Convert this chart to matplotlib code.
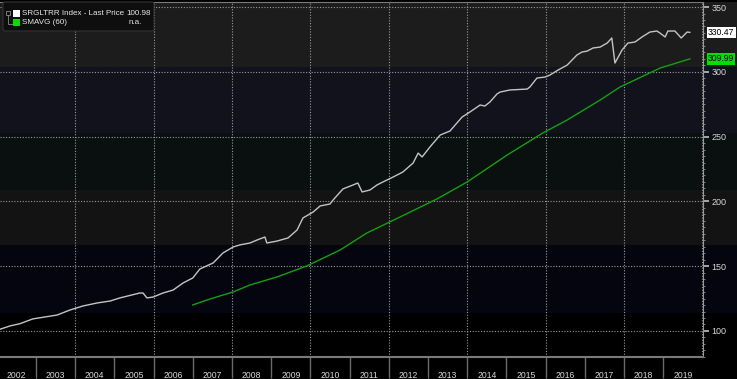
import matplotlib
matplotlib.use("Agg")
import matplotlib.pyplot as plt
from matplotlib.patches import Rectangle, FancyBboxPatch
from matplotlib.ticker import FixedLocator, MultipleLocator, NullFormatter
import numpy as np

plt.rcParams['font.family'] = ['Liberation Sans', 'DejaVu Sans']

# ---- data (decimal years, index level) ----
white_t = [2002.08, 2002.34, 2002.59, 2002.92, 2003.54, 2003.87, 2004.20, 2004.56, 2004.89, 2005.14,
           2005.65, 2005.73, 2005.83, 2005.99, 2006.24, 2006.50, 2006.75, 2007.00, 2007.18, 2007.52,
           2007.77, 2008.03, 2008.20, 2008.46, 2008.64, 2008.84, 2008.89, 2009.15, 2009.43, 2009.66,
           2009.81, 2010.07, 2010.25, 2010.50, 2010.58, 2010.83, 2011.09, 2011.21, 2011.32, 2011.52,
           2011.70, 2011.85, 2012.11, 2012.36, 2012.62, 2012.75, 2012.85, 2013.05, 2013.31, 2013.56,
           2013.87, 2014.07, 2014.33, 2014.45, 2014.58, 2014.76, 2014.84, 2015.09, 2015.53, 2015.60,
           2015.78, 2015.99, 2016.11, 2016.32, 2016.55, 2016.80, 2016.93, 2017.06, 2017.21, 2017.39,
           2017.57, 2017.69, 2017.77, 2017.95, 2018.10, 2018.28, 2018.46, 2018.66, 2018.84, 2018.92,
           2019.05, 2019.12, 2019.30, 2019.46, 2019.61, 2019.68]
white_v = [101.3, 103.9, 105.6, 109.3, 112.3, 116.2, 119.3, 121.6, 123.1, 125.5,
           129.3, 129.3, 125.5, 126.2, 129.3, 131.6, 137.0, 140.9, 147.8, 152.5,
           160.2, 164.8, 166.4, 167.9, 170.2, 172.5, 167.9, 169.4, 171.8, 177.9,
           187.2, 191.8, 196.5, 198.0, 201.1, 209.6, 212.7, 214.2, 207.3, 208.8,
           212.7, 215.0, 218.8, 222.7, 229.6, 237.3, 234.3, 242.0, 251.2, 254.3,
           265.1, 269.0, 274.4, 273.6, 276.7, 282.9, 284.4, 286.0, 286.7, 288.3,
           295.2, 296.0, 297.5, 301.4, 305.2, 313.0, 315.3, 316.0, 318.4, 319.1,
           322.2, 326.1, 306.8, 316.8, 322.2, 323.0, 326.9, 330.7, 331.5, 329.9,
           326.9, 331.5, 331.5, 326.1, 330.7, 330.47]

sma_t = [2007.00, 2007.44, 2008.03, 2008.46, 2009.15, 2009.91, 2010.76, 2011.44, 2012.29,
         2013.23, 2014.00, 2015.02, 2015.93, 2016.55, 2017.39, 2017.90, 2018.92, 2019.68]
sma_v = [120.1, 124.7, 130.1, 135.5, 141.7, 150.2, 162.5, 175.6, 188.0,
         201.9, 215.0, 235.8, 252.8, 262.8, 278.2, 288.3, 302.9, 309.99]

years = list(range(2002, 2020))
y_ticks = [100, 150, 200, 250, 300, 350]

last_price = "100.98"
legend_rows = ["SRGLTRR Index - Last Price", "SMAVG (60)"]

W, H = 737, 379
fig = plt.figure(figsize=(W / 100, H / 100), dpi=100, facecolor='black')
ax = fig.add_axes([0, 22 / H, 703 / W, 355 / H])
ax.set_facecolor('black')

# background bands (axes fractions), extended under the right-hand scale
bands = [(0.817, 1.0, '#1c1c1c'), (0.631, 0.817, '#11121b'), (0.470, 0.631, '#0a0f0f'),
         (0.315, 0.470, '#131313'), (0.124, 0.315, '#05050f'), (0.0, 0.124, '#000000')]
for lo, hi, c in bands:
    ax.add_patch(Rectangle((0, lo), 737 / 703, hi - lo, transform=ax.transAxes,
                           facecolor=c, edgecolor='none', clip_on=False, zorder=0))

ax.plot(white_t, white_v, color='#c4c4c4', lw=1.0, zorder=3)
ax.plot(sma_t, sma_v, color='#14a014', lw=1.0, zorder=3)

ax.set_xlim(2002.082, 2020.016)
ax.set_ylim(79.9, 353.9)

# grid
for yv in y_ticks:
    ax.axhline(yv, color='#9a9a9a', lw=0.8, ls=(0, (1, 1.5)), zorder=1)
for xv in range(2004, 2021, 2):
    ax.axvline(xv, color='#9a9a9a', lw=0.8, ls=(0, (1, 1.5)), zorder=1)

# x axis: year separators + centred labels
ax.xaxis.set_major_locator(FixedLocator(years[1:]))
ax.xaxis.set_major_formatter(NullFormatter())
ax.xaxis.set_minor_locator(FixedLocator([y + 0.5 for y in years]))
ax.set_xticklabels([str(y) for y in years], minor=True)
ax.tick_params(axis='x', which='major', direction='out', length=15, width=1, color='#6a6a6a')
ax.tick_params(axis='x', which='minor', length=0, pad=10, labelsize=6.2, labelcolor='#d8d8d8')

# y axis on the right
ax.yaxis.tick_right()
ax.set_yticks(y_ticks)
ax.yaxis.set_minor_locator(MultipleLocator(5))
ax.tick_params(axis='y', which='major', direction='out', length=4, width=1.2, color='#c0c0c0',
               pad=2, labelsize=6.5, labelcolor='#d8d8d8')
ax.tick_params(axis='y', which='minor', direction='out', length=1.5, width=0.6, color='#909090')

ax.spines['left'].set_visible(False)
ax.spines['right'].set_color('#9a9a9a')
ax.spines['bottom'].set_color('#7a7a7a')
ax.spines['bottom'].set_linewidth(1.5)
ax.spines['top'].set_color('#7a7a7a')
ax.spines['top'].set_linestyle((0, (1, 1)))

# last value tags
ax.text(2020.14, white_v[-1], f"{white_v[-1]:.2f}", fontsize=6.2, color='black', va='center',
        ha='left', zorder=5, clip_on=False,
        bbox=dict(boxstyle='square,pad=0.15', fc='white', ec='none'))
ax.text(2020.14, sma_v[-1], f"{sma_v[-1]:.2f}", fontsize=6.2, color='black', va='center',
        ha='left', zorder=5, clip_on=False,
        bbox=dict(boxstyle='square,pad=0.15', fc='#00e000', ec='none'))

# legend box (pixel positions converted to figure fractions)
def fx(px):
    return px / W

def fy(py):
    return 1 - py / H

fig.patches.append(FancyBboxPatch((fx(3), fy(31)), fx(151), 29 / H, boxstyle='round,pad=0,rounding_size=0.004',
                                  transform=fig.transFigure, fc='#0e0e0e', ec='#333333', lw=0.8))
fig.patches.append(Rectangle((fx(6), fy(15)), fx(4), 4 / H, transform=fig.transFigure,
                             fc='none', ec='#888888', lw=0.6))
fig.lines.append(plt.Line2D([fx(8), fx(8), fx(12)], [fy(15), fy(24), fy(24)],
                            transform=fig.transFigure, color='#888888', lw=0.6))
fig.patches.append(Rectangle((fx(13), fy(17)), fx(7), 7 / H, transform=fig.transFigure,
                             fc='white', ec='none'))
fig.patches.append(Rectangle((fx(13), fy(26)), fx(7), 7 / H, transform=fig.transFigure,
                             fc='#00e000', ec='none'))
fig.text(fx(22), fy(13.5), legend_rows[0], fontsize=5.8, color='#e8e8e8', va='center', ha='left')
fig.text(fx(22), fy(22.5), legend_rows[1], fontsize=5.8, color='#e8e8e8', va='center', ha='left')
fig.text(fx(151), fy(13.5), last_price, fontsize=5.8, color='#e8e8e8', va='center', ha='right')
fig.text(fx(129), fy(22.5), "n.a.", fontsize=5.8, color='#e8e8e8', va='center', ha='left')

fig.savefig("out.png", dpi=100, facecolor='black')
